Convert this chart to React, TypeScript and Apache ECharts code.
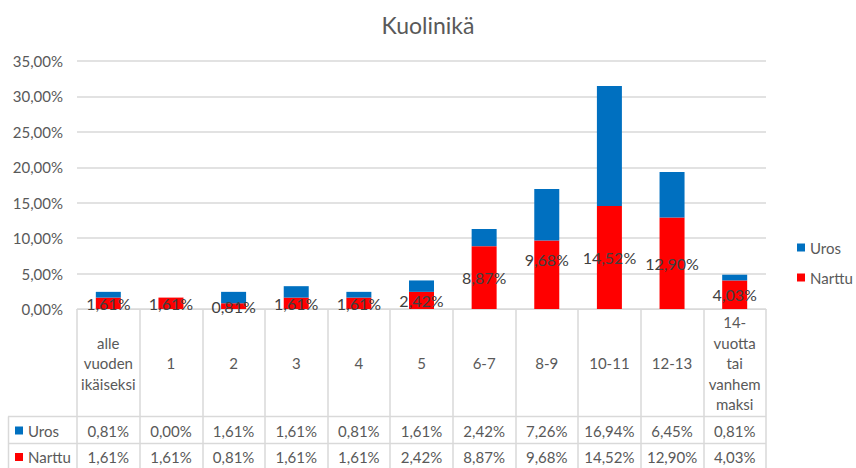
import React, { useEffect, useRef } from "react";
import * as echarts from "echarts";

const categories = ["alle vuoden ikäiseksi", "1", "2", "3", "4", "5", "6-7", "8-9", "10-11", "12-13", "14-vuotta tai vanhemmaksi"];
const tickLabels = ["alle\nvuoden\nikäiseksi", "1", "2", "3", "4", "5", "6-7", "8-9", "10-11", "12-13", "14-\nvuotta\ntai\nvanhem\nmaksi"];
const uros = [0.81, 0.0, 1.61, 1.61, 0.81, 1.61, 2.42, 7.26, 16.94, 6.45, 0.81];
const narttu = [1.61, 1.61, 0.81, 1.61, 1.61, 2.42, 8.87, 9.68, 14.52, 12.9, 4.03];

const fmt = (v: number) => v.toFixed(2).replace(".", ",") + "%";
const FONT = "Lato";
const FS = 15;
const GRAY = "#595959";
const LINE = "#d9d9d9";
const BLUE = "#0070C0";
const RED = "#FF0000";

export default function App() {
  const ref = useRef<HTMLDivElement>(null);
  useEffect(() => {
    if (!ref.current) return;
    const chart = echarts.init(ref.current, null, { renderer: "svg" });
    const gridLeft = 77;
    const gridRight = 766;
    const axisY = 309;
    chart.setOption({
      animation: false,
      textStyle: { fontFamily: FONT },
      title: {
        text: "Kuolinikä",
        left: "center",
        top: 8,
        textStyle: { fontFamily: FONT, fontSize: 23, fontWeight: "normal", color: GRAY },
      },
      legend: {
        data: ["Uros", "Narttu"],
        orient: "vertical",
        left: 792,
        top: 235,
        icon: "rect",
        itemWidth: 8,
        itemHeight: 8,
        itemGap: 15,
        textStyle: { fontFamily: FONT, fontSize: 15, color: GRAY },
      },
      grid: { left: gridLeft, right: 856 - gridRight, top: 61, bottom: 468 - axisY, containLabel: false },
      xAxis: [
        {
          type: "category",
          data: categories,
          boundaryGap: true,
          axisLine: { show: true, lineStyle: { color: LINE, width: 1 } },
          axisTick: { show: true, length: 160, interval: 0, alignWithLabel: false, lineStyle: { color: LINE, width: 1.5 } },
          axisLabel: {
            interval: 0,
            formatter: (_v: string, i: number) => tickLabels[i],
            margin: 54,
            verticalAlign: "middle",
            lineHeight: 20.5,
            fontFamily: FONT,
            fontSize: FS,
            color: GRAY,
          },
        },
        {
          type: "category",
          data: categories,
          position: "bottom",
          axisLine: { show: false },
          axisTick: { show: false },
          axisLabel: {
            interval: 0,
            formatter: (_v: string, i: number) => fmt(uros[i]),
            margin: 121.5,
            verticalAlign: "middle",
            fontFamily: FONT,
            fontSize: FS,
            color: GRAY,
          },
        },
        {
          type: "category",
          data: categories,
          position: "bottom",
          axisLine: { show: false },
          axisTick: { show: false },
          axisLabel: {
            interval: 0,
            formatter: (_v: string, i: number) => fmt(narttu[i]),
            margin: 148,
            verticalAlign: "middle",
            fontFamily: FONT,
            fontSize: FS,
            color: GRAY,
          },
        },
      ],
      yAxis: {
        type: "value",
        min: 0,
        max: 35,
        interval: 5,
        axisLine: { show: false },
        axisTick: { show: false },
        splitLine: { lineStyle: { color: LINE, width: 1.5 } },
        axisLabel: { formatter: (v: number) => fmt(v), margin: 14, fontFamily: FONT, fontSize: FS, color: GRAY },
      },
      series: [
        {
          name: "Narttu",
          type: "bar",
          stack: "total",
          barWidth: 25,
          xAxisIndex: 0,
          itemStyle: { color: RED },
          data: narttu.map((v, i) => (i === 7 ? { value: v, label: { offset: [0, -15] } } : v)),
          label: {
            show: true,
            position: "inside",
            formatter: (p: any) => fmt(p.value),
            color: "#404040",
            textBorderWidth: 0,
            fontFamily: FONT,
            fontSize: 16,
          },
        },
        {
          name: "Uros",
          type: "bar",
          stack: "total",
          barWidth: 25,
          xAxisIndex: 0,
          itemStyle: { color: BLUE },
          data: uros,
        },
      ],
      graphic: [
        { type: "line", shape: { x1: 8, y1: 416.5, x2: gridRight, y2: 416.5 }, style: { stroke: LINE, lineWidth: 1.5 } },
        { type: "line", shape: { x1: 8, y1: 443.5, x2: gridRight, y2: 443.5 }, style: { stroke: LINE, lineWidth: 1.5 } },
        { type: "line", shape: { x1: 8.5, y1: 416.5, x2: 8.5, y2: 468 }, style: { stroke: LINE, lineWidth: 1.5 } },
        { type: "rect", shape: { x: 15, y: 426.5, width: 8, height: 8 }, style: { fill: BLUE } },
        { type: "text", x: 28, y: 430.5, style: { text: "Uros", fontFamily: FONT, fontSize: FS, fill: GRAY, verticalAlign: "middle" } },
        { type: "rect", shape: { x: 15, y: 453, width: 8, height: 8 }, style: { fill: RED } },
        { type: "text", x: 28, y: 457, style: { text: "Narttu", fontFamily: FONT, fontSize: FS, fill: GRAY, verticalAlign: "middle" } },
      ],
    });
    return () => chart.dispose();
  }, []);
  return <div ref={ref} style={{ position: "absolute", left: 0, top: 0, width: 856, height: 468 }} />;
}
